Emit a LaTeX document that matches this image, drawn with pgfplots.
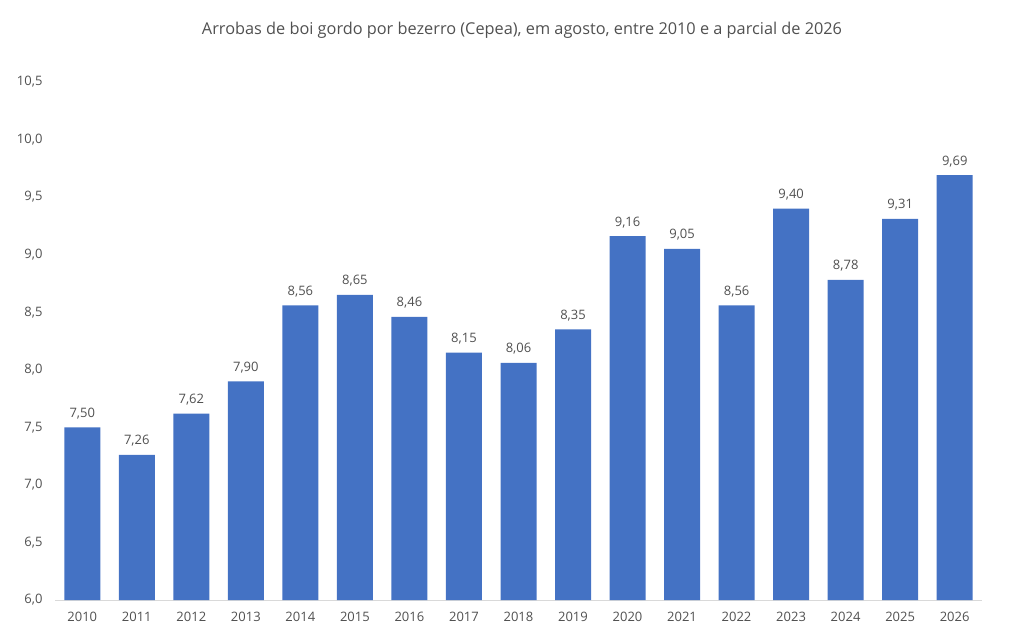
\documentclass[border=0pt]{standalone}
\usepackage{fontspec}
\setmainfont{Open Sans}
\usepackage{pgfplots}
\pgfplotsset{compat=1.18}
\definecolor{barblue}{HTML}{4472C4}
\definecolor{txtgray}{HTML}{505050}
\definecolor{axgray}{HTML}{D9D9D9}
\begin{document}
\begin{tikzpicture}[x=1pt,y=1pt]
\path (0,0) rectangle (1011,630);
\node[txtgray,font=\fontsize{16.3}{19}\selectfont] at (522,600) {Arrobas de boi gordo por bezerro (Cepea), em agosto, entre 2010 e a parcial de 2026};
\begin{axis}[
    at={(55pt,30pt)}, anchor=south west,
    scale only axis,
    width=927pt, height=518pt,
    xmin=2009.5, xmax=2026.5,
    ymin=6, ymax=10.5,
    ybar, bar width=36pt,
    axis x line*=bottom,
    axis y line=none,
    x axis line style={axgray, line width=1pt},
    xtick={2010,...,2026},
    xtick style={draw=none},
    x tick label style={/pgf/number format/set thousands separator={}},
    xticklabel style={txtgray, font=\fontsize{13}{15}\selectfont, yshift=-4pt},
    /pgf/number format/assume math mode=true,
    clip=false,
    nodes near coords,
    nodes near coords style={txtgray, font=\fontsize{13}{15}\selectfont, yshift=5pt,
      /pgf/number format/.cd, fixed, fixed zerofill, precision=2, use comma},
]
\addplot[fill=barblue, draw=none] coordinates {
  (2010,7.50)(2011,7.26)(2012,7.62)(2013,7.90)(2014,8.56)(2015,8.65)
  (2016,8.46)(2017,8.15)(2018,8.06)(2019,8.35)(2020,9.16)(2021,9.05)
  (2022,8.56)(2023,9.40)(2024,8.78)(2025,9.31)(2026,9.69)
};
\end{axis}
\begin{axis}[
    at={(55pt,30pt)}, anchor=south west,
    scale only axis,
    width=927pt, height=518pt,
    xmin=2009.5, xmax=2026.5,
    ymin=6, ymax=10.5,
    axis x line=none,
    axis y line*=left,
    y axis line style={draw=none},
    ytick={6,6.5,...,10.5},
    ytick style={draw=none},
    yticklabel style={txtgray, font=\fontsize{13}{15}\selectfont,
      /pgf/number format/.cd, fixed, fixed zerofill, precision=1, use comma,
      assume math mode=true},
    yticklabel shift=9pt,
]
\end{axis}
\end{tikzpicture}
\end{document}
